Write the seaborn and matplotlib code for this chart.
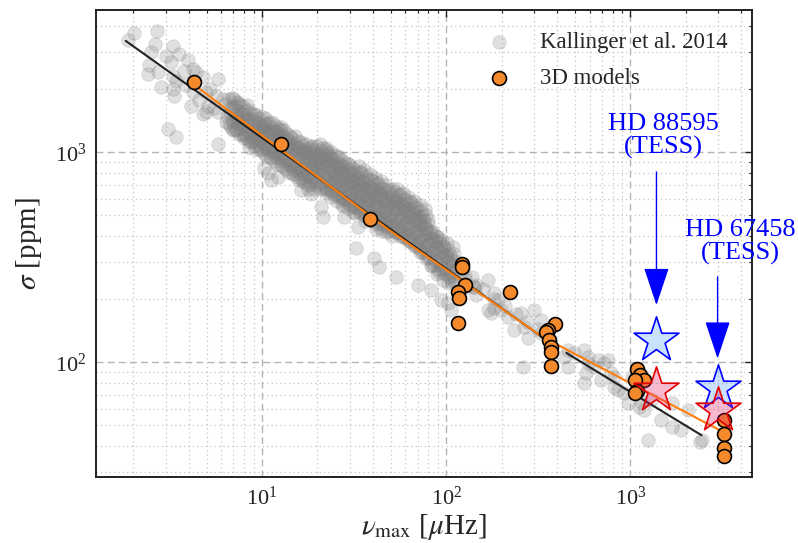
import numpy as np
import matplotlib
matplotlib.use("Agg")
import matplotlib.pyplot as plt
from matplotlib.ticker import LogLocator, NullFormatter
import seaborn as sns

# ---------------------------------------------------------------------------
# Kallinger et al. (2014) red giants: log10(numax / uHz), log10(sigma / ppm)
# ---------------------------------------------------------------------------
kal_log_numax = [
    # sparse high-luminosity giants
    0.270, 0.306, 0.428, 0.420, 0.515, 0.397, 0.478, 0.551, 0.505, 0.388,
    0.379, 0.433, 0.515, 0.578, 0.623, 0.533, 0.451, 0.523, 0.623, 0.614,
    0.696, 0.759, 0.705, 0.678, 0.750, 0.488, 0.533, 0.759, 0.786, 0.804,
    0.759, 0.623, 0.641, 0.515, 0.696, 0.580, 0.660, 0.720, 0.600, 0.680,
    0.740,
    # scattered around the main branch
    1.031, 1.085, 1.176, 1.212, 1.266, 1.321, 1.330, 1.284, 1.348, 1.103,
    0.868, 1.520, 1.447, 1.266, 1.011, 1.049, 1.212, 1.248,
    1.511, 1.609, 1.636, 1.728, 1.848, 1.918, 1.973, 2.027, 2.228, 2.261,
    2.299, 2.228, 1.957, 1.902,
    2.152, 2.283, 2.245, 2.337, 2.408, 2.478, 2.424, 2.516, 2.370, 2.446,
    2.516, 2.418, 2.663, 2.663, 2.750, 2.772, 2.826, 2.880, 2.897, 2.750,
    2.935, 2.011, 2.011,
    2.641, 2.696, 2.772, 2.804, 2.859, 2.761, 2.842, 2.913, 2.967, 2.989,
    3.076, 3.168, 3.223, 3.277, 3.386, 3.098, 3.315, 3.380, 3.049, 3.114,
    3.223, 2.913, 3.010, 3.040, 3.060,
    2.100, 2.160, 2.160, 2.200, 2.260, 2.260, 2.320, 2.380, 2.440, 2.500,
    # dense red-giant branch / clump
    0.82, 0.83, 0.81, 0.82, 0.84, 0.80,
    0.85, 0.86, 0.84, 0.86, 0.85, 0.87,
    0.88, 0.89, 0.87, 0.88, 0.90, 0.89,
    0.91, 0.92, 0.90, 0.91, 0.93, 0.92, 0.94,
    0.94, 0.95, 0.96, 0.94, 0.95, 0.93, 0.97,
    0.97, 0.98, 0.99, 0.97, 0.98, 0.96, 1.00,
    1.00, 1.01, 1.02, 1.00, 1.01, 0.99, 1.03,
    1.03, 1.04, 1.05, 1.03, 1.04, 1.02, 1.06,
    1.06, 1.07, 1.08, 1.06, 1.07, 1.05, 1.09,
    1.09, 1.10, 1.11, 1.09, 1.10, 1.08, 1.12,
    1.12, 1.13, 1.14, 1.12, 1.13, 1.11, 1.15,
    1.15, 1.16, 1.17, 1.15, 1.16, 1.14, 1.18,
    1.18, 1.19, 1.20, 1.18, 1.19, 1.17, 1.21,
    1.21, 1.22, 1.23, 1.21, 1.22, 1.20, 1.24, 1.23,
    1.24, 1.25, 1.26, 1.24, 1.25, 1.23, 1.27,
    1.27, 1.28, 1.29, 1.27, 1.28, 1.26, 1.30, 1.29,
    1.30, 1.31, 1.32, 1.30, 1.31, 1.29, 1.33, 1.32,
    1.33, 1.34, 1.35, 1.33, 1.34, 1.32, 1.36, 1.35,
    1.36, 1.37, 1.38, 1.36, 1.37, 1.35, 1.39, 1.38, 1.37,
    1.39, 1.40, 1.41, 1.39, 1.40, 1.38, 1.42, 1.41, 1.40,
    1.42, 1.43, 1.44, 1.42, 1.43, 1.41, 1.45, 1.44, 1.43,
    1.45, 1.46, 1.47, 1.45, 1.46, 1.44, 1.48, 1.47, 1.46,
    1.48, 1.49, 1.50, 1.48, 1.49, 1.47, 1.51, 1.50, 1.49,
    1.51, 1.52, 1.53, 1.51, 1.52, 1.50, 1.54, 1.53, 1.52,
    1.54, 1.55, 1.56, 1.54, 1.55, 1.53, 1.57, 1.56, 1.55,
    1.57, 1.58, 1.59, 1.57, 1.58, 1.56, 1.60, 1.59, 1.58,
    1.60, 1.61, 1.62, 1.60, 1.61, 1.59, 1.63, 1.62, 1.61,
    1.63, 1.64, 1.65, 1.63, 1.64, 1.62, 1.66, 1.65, 1.64,
    1.66, 1.67, 1.68, 1.66, 1.67, 1.65, 1.69, 1.68,
    1.69, 1.70, 1.71, 1.69, 1.70, 1.68, 1.72, 1.71,
    1.72, 1.73, 1.74, 1.72, 1.73, 1.71, 1.75, 1.74,
    1.75, 1.76, 1.77, 1.75, 1.76, 1.74, 1.78, 1.77,
    1.78, 1.79, 1.80, 1.78, 1.79, 1.77, 1.81, 1.80,
    1.81, 1.82, 1.83, 1.81, 1.82, 1.80, 1.84, 1.83,
    1.84, 1.85, 1.86, 1.84, 1.85, 1.83, 1.87, 1.86,
    1.87, 1.88, 1.89, 1.87, 1.88, 1.86, 1.90, 1.89,
    1.90, 1.91, 1.92, 1.90, 1.91, 1.89, 1.93,
    1.93, 1.94, 1.95, 1.93, 1.94, 1.92, 1.96,
    1.96, 1.97, 1.98, 1.96, 1.97, 1.95,
    1.99, 2.00, 2.01, 1.99, 2.00, 1.98,
    2.02, 2.03, 2.04, 2.02, 2.03,
    2.05, 2.06, 2.07, 2.05,
    2.09, 2.10, 2.11,
    2.14, 2.15,
    # second pass through the dense branch
    0.835, 0.842, 0.829, 0.839, 0.827, 0.844,
    0.865, 0.872, 0.859, 0.869, 0.857, 0.874,
    0.895, 0.902, 0.889, 0.899, 0.887, 0.904,
    0.925, 0.932, 0.919, 0.929, 0.917, 0.934,
    0.955, 0.962, 0.949, 0.959, 0.947, 0.964,
    0.985, 0.992, 0.979, 0.989, 0.977, 0.994,
    1.015, 1.022, 1.009, 1.019, 1.007, 1.024, 1.012,
    1.045, 1.052, 1.039, 1.049, 1.037, 1.054, 1.042,
    1.075, 1.082, 1.069, 1.079, 1.067, 1.084, 1.072,
    1.105, 1.112, 1.099, 1.109, 1.097, 1.114, 1.102,
    1.135, 1.142, 1.129, 1.139, 1.127, 1.144, 1.132,
    1.165, 1.172, 1.159, 1.169, 1.157, 1.174, 1.162,
    1.195, 1.202, 1.189, 1.199, 1.187, 1.204, 1.192,
    1.225, 1.232, 1.219, 1.229, 1.217, 1.234, 1.222,
    1.255, 1.262, 1.249, 1.259, 1.247, 1.264, 1.252,
    1.285, 1.292, 1.279, 1.289, 1.277, 1.294, 1.282,
    1.315, 1.322, 1.309, 1.319, 1.307, 1.324, 1.312, 1.317,
    1.345, 1.352, 1.339, 1.349, 1.337, 1.354, 1.342, 1.347,
    1.375, 1.382, 1.369, 1.379, 1.367, 1.384, 1.372, 1.377,
    1.405, 1.412, 1.399, 1.409, 1.397, 1.414, 1.402, 1.407,
    1.435, 1.442, 1.429, 1.439, 1.427, 1.444, 1.432, 1.437,
    1.465, 1.472, 1.459, 1.469, 1.457, 1.474, 1.462, 1.467,
    1.495, 1.502, 1.489, 1.499, 1.487, 1.504, 1.492, 1.497,
    1.525, 1.532, 1.519, 1.529, 1.517, 1.534, 1.522, 1.527,
    1.555, 1.562, 1.549, 1.559, 1.547, 1.564, 1.552, 1.557,
    1.585, 1.592, 1.579, 1.589, 1.577, 1.594, 1.582, 1.587,
    1.615, 1.622, 1.609, 1.619, 1.607, 1.624, 1.612, 1.617,
    1.645, 1.652, 1.639, 1.649, 1.637, 1.654, 1.642, 1.647,
    1.675, 1.682, 1.669, 1.679, 1.667, 1.684, 1.672, 1.677,
    1.705, 1.712, 1.699, 1.709, 1.697, 1.714, 1.702, 1.707,
    1.735, 1.742, 1.729, 1.739, 1.727, 1.744, 1.732, 1.737,
    1.765, 1.772, 1.759, 1.769, 1.757, 1.774, 1.762, 1.767,
    1.795, 1.802, 1.789, 1.799, 1.787, 1.804, 1.792, 1.797,
    1.825, 1.832, 1.819, 1.829, 1.817, 1.834, 1.822, 1.827,
    1.855, 1.862, 1.849, 1.859, 1.847, 1.864, 1.852, 1.857,
    1.885, 1.892, 1.879, 1.889, 1.877, 1.894, 1.882, 1.887,
    1.915, 1.922, 1.909, 1.919, 1.907, 1.924,
    1.945, 1.952, 1.939, 1.949, 1.937, 1.954,
    1.975, 1.982, 1.969, 1.979, 1.967, 1.984,
    2.005, 2.012, 1.999, 2.009, 1.997, 2.014,
    2.035, 2.042, 2.029, 2.039, 2.027, 2.044,
]
kal_log_sigma = [
    3.532, 3.568, 3.575, 3.516, 3.508, 3.476, 3.460, 3.468, 3.429, 3.413,
    3.373, 3.381, 3.365, 3.389, 3.397, 3.341, 3.310, 3.270, 3.286, 3.222,
    3.286, 3.349, 3.222, 3.182, 3.270, 3.111, 3.071, 3.190, 3.254, 3.143,
    3.040, 3.341, 3.381, 3.301, 3.190, 3.320, 3.250, 3.300, 3.440, 3.360,
    3.210,
    2.899, 2.882, 2.914, 2.819, 2.803, 2.740, 2.692, 3.010, 3.010, 3.120,
    3.232, 2.644, 2.692, 3.025, 2.924, 2.867, 2.876, 2.827,
    2.543, 2.495, 2.452, 2.405, 2.367, 2.343, 2.295, 2.248, 2.390, 2.329,
    2.248, 2.248, 2.595, 2.676,
    2.357, 2.295, 2.233, 2.214, 2.233, 2.248, 2.167, 2.200, 2.152, 2.114,
    2.138, 1.976, 2.057, 1.976, 2.057, 1.995, 2.010, 2.010, 1.948, 1.900,
    1.867, 2.376, 2.281,
    2.024, 2.043, 2.024, 1.976, 1.995, 1.948, 1.914, 1.881, 1.852, 1.805,
    1.771, 1.724, 1.690, 1.676, 1.629, 1.629, 1.771, 1.619, 1.786, 1.819,
    1.805, 1.929, 1.930, 1.870, 1.810,
    2.410, 2.370, 2.320, 2.350, 2.300, 2.260, 2.270, 2.230, 2.190, 2.160,
    3.251, 3.211, 3.171, 3.141, 3.111, 3.231,
    3.222, 3.182, 3.142, 3.112, 3.252, 3.162,
    3.223, 3.183, 3.153, 3.113, 3.083, 3.163,
    3.195, 3.155, 3.125, 3.085, 3.055, 3.225, 3.135,
    3.186, 3.156, 3.126, 3.086, 3.056, 3.026, 3.106,
    3.177, 3.137, 3.107, 3.077, 3.047, 3.017, 3.117,
    3.169, 3.129, 3.099, 3.069, 3.039, 3.009, 3.079,
    3.140, 3.100, 3.070, 3.040, 3.010, 2.980, 3.090,
    3.141, 3.101, 3.061, 3.031, 3.001, 2.971, 3.081,
    3.112, 3.072, 3.032, 3.002, 2.972, 2.942, 3.052,
    3.104, 3.064, 3.024, 2.994, 2.964, 2.934, 3.044,
    3.075, 3.035, 2.995, 2.965, 2.935, 2.905, 3.015,
    3.076, 3.026, 2.986, 2.956, 2.926, 2.896, 3.006,
    3.047, 2.997, 2.957, 2.927, 2.897, 2.867, 2.977, 3.017,
    3.039, 2.999, 2.959, 2.919, 2.889, 2.859, 2.939,
    3.030, 2.990, 2.950, 2.910, 2.880, 2.850, 2.930, 2.970,
    3.031, 2.991, 2.951, 2.921, 2.891, 2.861, 2.831, 2.971,
    3.022, 2.982, 2.942, 2.912, 2.882, 2.852, 2.822, 2.962,
    2.994, 2.954, 2.914, 2.884, 2.854, 2.824, 2.794, 2.934, 2.974,
    2.985, 2.945, 2.905, 2.875, 2.845, 2.815, 2.785, 2.925, 2.885,
    2.976, 2.936, 2.896, 2.866, 2.836, 2.806, 2.776, 2.746, 2.916,
    2.947, 2.907, 2.867, 2.837, 2.807, 2.777, 2.747, 2.887, 2.847,
    2.939, 2.899, 2.859, 2.829, 2.799, 2.769, 2.739, 2.709, 2.879,
    2.910, 2.870, 2.830, 2.800, 2.770, 2.740, 2.710, 2.850, 2.810,
    2.901, 2.861, 2.821, 2.791, 2.761, 2.731, 2.701, 2.671, 2.841,
    2.873, 2.833, 2.793, 2.763, 2.733, 2.703, 2.673, 2.813, 2.773,
    2.864, 2.824, 2.784, 2.754, 2.724, 2.694, 2.664, 2.634, 2.804,
    2.855, 2.815, 2.775, 2.745, 2.715, 2.685, 2.655, 2.625, 2.795,
    2.826, 2.786, 2.746, 2.716, 2.686, 2.656, 2.626, 2.766,
    2.818, 2.778, 2.738, 2.708, 2.678, 2.648, 2.618, 2.758,
    2.809, 2.769, 2.729, 2.689, 2.659, 2.629, 2.599, 2.749,
    2.800, 2.760, 2.720, 2.680, 2.650, 2.620, 2.590, 2.740,
    2.771, 2.731, 2.691, 2.661, 2.631, 2.601, 2.571, 2.711,
    2.763, 2.723, 2.683, 2.643, 2.613, 2.583, 2.553, 2.703,
    2.734, 2.694, 2.654, 2.614, 2.584, 2.554, 2.524, 2.674,
    2.695, 2.655, 2.615, 2.585, 2.555, 2.525, 2.495, 2.635,
    2.656, 2.616, 2.586, 2.556, 2.526, 2.496, 2.466,
    2.618, 2.578, 2.548, 2.518, 2.488, 2.458, 2.428,
    2.579, 2.539, 2.509, 2.479, 2.449, 2.419,
    2.550, 2.510, 2.480, 2.450, 2.420, 2.390,
    2.511, 2.471, 2.441, 2.411, 2.381,
    2.483, 2.443, 2.413, 2.383,
    2.448, 2.398, 2.358,
    2.407, 2.357,
    3.257, 3.217, 3.187, 3.157, 3.127, 3.107,
    3.238, 3.198, 3.168, 3.138, 3.108, 3.088,
    3.219, 3.179, 3.149, 3.119, 3.089, 3.069,
    3.200, 3.160, 3.130, 3.100, 3.070, 3.050,
    3.182, 3.142, 3.112, 3.082, 3.052, 3.032,
    3.163, 3.123, 3.093, 3.063, 3.033, 3.013,
    3.164, 3.134, 3.104, 3.074, 3.044, 3.014, 2.994,
    3.145, 3.115, 3.085, 3.055, 3.025, 2.995, 2.975,
    3.127, 3.097, 3.067, 3.037, 3.007, 2.977, 2.957,
    3.108, 3.078, 3.048, 3.018, 2.988, 2.958, 2.938,
    3.089, 3.059, 3.029, 2.999, 2.969, 2.939, 2.919,
    3.070, 3.040, 3.010, 2.980, 2.950, 2.920, 2.900,
    3.052, 3.022, 2.992, 2.962, 2.932, 2.902, 2.882,
    3.033, 3.003, 2.973, 2.943, 2.913, 2.883, 2.863,
    3.014, 2.984, 2.954, 2.924, 2.894, 2.864, 2.844,
    2.995, 2.965, 2.935, 2.905, 2.875, 2.845, 2.825,
    3.037, 3.007, 2.977, 2.947, 2.917, 2.887, 2.857, 2.827,
    3.018, 2.988, 2.958, 2.928, 2.898, 2.868, 2.838, 2.808,
    2.999, 2.969, 2.939, 2.909, 2.879, 2.849, 2.819, 2.789,
    2.980, 2.950, 2.920, 2.890, 2.860, 2.830, 2.800, 2.770,
    2.962, 2.932, 2.902, 2.872, 2.842, 2.812, 2.782, 2.752,
    2.943, 2.913, 2.883, 2.853, 2.823, 2.793, 2.763, 2.733,
    2.924, 2.894, 2.864, 2.834, 2.804, 2.774, 2.744, 2.714,
    2.936, 2.906, 2.876, 2.846, 2.816, 2.786, 2.756, 2.716,
    2.917, 2.887, 2.857, 2.827, 2.797, 2.767, 2.737, 2.697,
    2.898, 2.868, 2.838, 2.808, 2.778, 2.748, 2.718, 2.678,
    2.879, 2.849, 2.819, 2.789, 2.759, 2.729, 2.699, 2.659,
    2.861, 2.831, 2.801, 2.771, 2.741, 2.711, 2.681, 2.641,
    2.842, 2.812, 2.782, 2.752, 2.722, 2.692, 2.662, 2.622,
    2.823, 2.793, 2.763, 2.733, 2.703, 2.673, 2.643, 2.603,
    2.824, 2.794, 2.764, 2.734, 2.704, 2.674, 2.644, 2.614,
    2.806, 2.776, 2.746, 2.716, 2.686, 2.656, 2.626, 2.596,
    2.787, 2.757, 2.727, 2.697, 2.667, 2.637, 2.607, 2.577,
    2.768, 2.738, 2.708, 2.678, 2.648, 2.618, 2.588, 2.558,
    2.749, 2.719, 2.689, 2.659, 2.629, 2.599, 2.569, 2.539,
    2.731, 2.701, 2.671, 2.641, 2.611, 2.581, 2.551, 2.521,
    2.622, 2.592, 2.562, 2.532, 2.502, 2.462,
    2.603, 2.573, 2.543, 2.513, 2.483, 2.443,
    2.584, 2.554, 2.524, 2.494, 2.464, 2.424,
    2.566, 2.536, 2.506, 2.476, 2.446, 2.406,
    2.547, 2.517, 2.487, 2.457, 2.427, 2.387,
]

# 3D model granulation amplitudes
model_numax = [4.3, 12.7, 38.5, 122, 122, 126, 116, 117, 116, 223,
               391, 357, 349, 360, 369, 372, 369,
               1080, 1125, 1186, 1065, 1091, 1065,
               3214, 3214, 3214, 3214]
model_sigma = [2160, 1100, 480, 295, 285, 234, 216, 202, 154, 216,
               152, 142, 139, 127, 118, 112, 95.7,
               93.3, 86.7, 82.7, 82.0, 72.7, 71.0,
               53.3, 45.3, 39.1, 35.8]

# Scaling relations (two black segments) and the 3D-model trend (orange)
scaling_a_numax = [1.82, 343]
scaling_a_sigma = [3390, 129]
scaling_b_numax = [449, 2432]
scaling_b_sigma = [110.7, 44.9]
model_fit_numax = [4.38, 49.0, 328, 3048]
model_fit_sigma = [2060, 426, 133, 47.5]

# TESS targets: observed (blue) and 3D-model (red) amplitudes
tess_names = ["HD 88595\n(TESS)", "HD 67458\n(TESS)"]
tess_numax = [1384, 2972]
tess_sigma_obs = [127, 75]
tess_sigma_model = [73.6, 59]

# ---------------------------------------------------------------------------
sns.set_theme(style="white")
plt.rcParams["font.family"] = ["Liberation Serif", "DejaVu Serif"]
plt.rcParams["mathtext.fontset"] = "stix"

fig = plt.figure(figsize=(7.98, 5.43), dpi=100)
ax = fig.add_axes([0.1203, 0.1221, 0.8221, 0.8586])
ax.set_xscale("log")
ax.set_yscale("log")

kal_numax = 10 ** np.asarray(kal_log_numax)
kal_sigma = 10 ** np.asarray(kal_log_sigma)

sns.scatterplot(x=kal_numax, y=kal_sigma, ax=ax, color="gray", alpha=0.24,
                s=95, edgecolor="gray", linewidth=0.6,
                label="Kallinger et al. 2014", zorder=1)

sns.lineplot(x=scaling_a_numax, y=scaling_a_sigma, ax=ax, sort=False,
             estimator=None, color="#222222", lw=1.5, zorder=2)
sns.lineplot(x=scaling_b_numax, y=scaling_b_sigma, ax=ax, sort=False,
             estimator=None, color="#222222", lw=1.5, zorder=2)
sns.lineplot(x=model_fit_numax, y=model_fit_sigma, ax=ax, sort=False,
             estimator=None, color="#ff7f0e", lw=1.5, zorder=2.5)

sns.scatterplot(x=model_numax, y=model_sigma, ax=ax, color="#f58a2c",
                s=100, edgecolor="black", linewidth=1.2,
                label="3D models", zorder=3)

ax.scatter(tess_numax, tess_sigma_obs, marker="*", s=34 ** 2,
           facecolors=[(0.2, 0.55, 1.0, 0.25)], edgecolors="blue",
           linewidths=1.2, zorder=4)
ax.scatter(tess_numax, tess_sigma_model, marker="*", s=34 ** 2,
           facecolors=[(0.9, 0.1, 0.4, 0.3)], edgecolors="#e00000",
           linewidths=1.2, zorder=5)

# Labels and arrows for the TESS stars
label_pos = [(1510, 1200), (3927, 372)]
arrow_tail = [805, 255]
arrow_tip = [187, 104]
for name, x0, (tx, ty), y_tail, y_tip in zip(tess_names, tess_numax,
                                              label_pos, arrow_tail, arrow_tip):
    ax.text(tx, ty, name, color="blue", fontsize=19, ha="center",
            va="center", linespacing=1.05, zorder=6)
    ax.annotate("", xy=(x0, y_tip), xytext=(x0, y_tail),
                arrowprops=dict(arrowstyle="-|>,head_length=2.4,head_width=0.8",
                                mutation_scale=10, color="blue", lw=1.0,
                                shrinkA=0, shrinkB=0), zorder=6)

ax.set_xlim(1.256, 4571)
ax.set_ylim(28.5, 4730)

for axis in (ax.xaxis, ax.yaxis):
    axis.set_major_locator(LogLocator(base=10, numticks=20))
    axis.set_minor_locator(LogLocator(base=10, subs=np.arange(2, 10), numticks=50))
    axis.set_minor_formatter(NullFormatter())

ax.tick_params(which="both", direction="in", top=True, right=True,
               colors="#222222", labelcolor="#222222")
ax.tick_params(which="major", length=5, width=1.0, labelsize=16, pad=7)
ax.tick_params(which="minor", length=2.5, width=0.8)

ax.grid(which="major", ls=(0, (5, 3)), color="#b4b4b4", lw=1.0)
ax.grid(which="minor", ls=(0, (1, 2.5)), color="#c4c4c4", lw=0.9)
ax.set_axisbelow(True)
for sp in ax.spines.values():
    sp.set_color("#222222")
    sp.set_linewidth(1.4)

ax.set_xlabel(r"$\nu_{\mathrm{max}}$ [$\mu$Hz]", fontsize=21, labelpad=2)
ax.set_ylabel(r"$\sigma$ [ppm]", fontsize=21, labelpad=8)

leg = ax.legend(loc="upper left", bbox_to_anchor=(0.548, 0.998), frameon=False,
                fontsize=16.5, handletextpad=0.8, labelspacing=0.65,
                markerscale=1.0)

fig.savefig("out.png", dpi=100)
